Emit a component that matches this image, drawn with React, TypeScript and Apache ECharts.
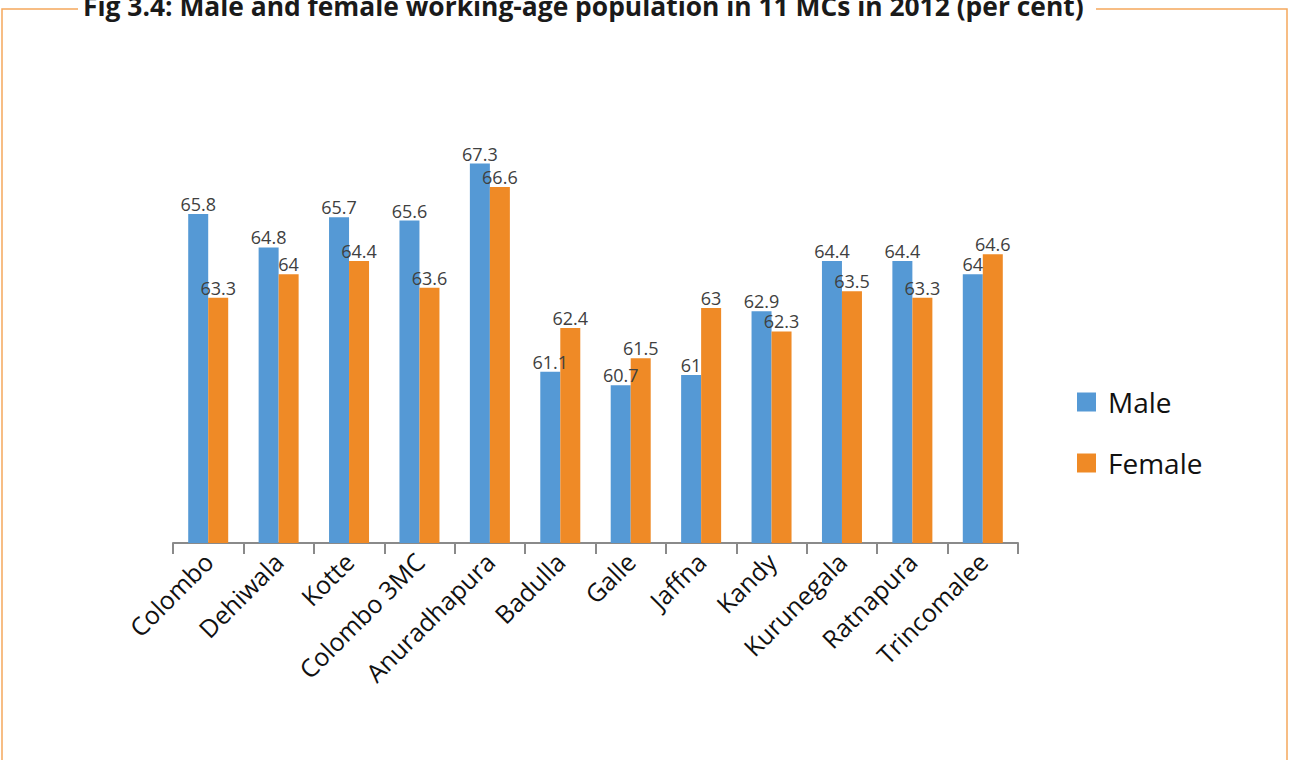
import React, { useEffect, useRef } from "react";
import * as echarts from "echarts";

const categories = ["Colombo", "Dehiwala", "Kotte", "Colombo 3MC", "Anuradhapura", "Badulla", "Galle", "Jaffna", "Kandy", "Kurunegala", "Ratnapura", "Trincomalee"];
const maleValues = [65.8, 64.8, 65.7, 65.6, 67.3, 61.1, 60.7, 61, 62.9, 64.4, 64.4, 64];
const femaleValues = [63.3, 64, 64.4, 63.6, 66.6, 62.4, 61.5, 63, 62.3, 63.5, 63.3, 64.6];
const titleText = "Fig 3.4: Male and female working-age population in 11 MCs in 2012 (per cent)";

export default function App() {
  const ref = useRef<HTMLDivElement>(null);
  useEffect(() => {
    if (!ref.current) return;
    const chart = echarts.init(ref.current, null, { renderer: "svg" });
    const border = "#F5A85C";
    const labelCfg = {
      show: true,
      position: "top" as const,
      distance: 1,
      fontSize: 18,
      color: "#404040",
      fontFamily: "Open Sans",
    };
    chart.setOption({
      animation: false,
      backgroundColor: "#fff",
      graphic: [
        { type: "polyline", shape: { points: [[78, 9], [2, 9], [2, 800]] }, style: { stroke: border, lineWidth: 1.5, fill: null } },
        { type: "polyline", shape: { points: [[1096, 9], [1287, 9], [1287, 800]] }, style: { stroke: border, lineWidth: 1.5, fill: null } },
        {
          type: "text",
          left: 83,
          top: -7,
          style: { text: titleText, fontSize: 26.4, fontWeight: "bold", fontFamily: "Open Sans", fill: "#1a1a1a" },
        },
      ],
      legend: {
        orient: "vertical",
        left: 1072,
        top: 383,
        itemWidth: 19,
        itemHeight: 19,
        itemGap: 33,
        icon: "rect",
        textStyle: { fontSize: 28, fontFamily: "Open Sans", color: "#111", padding: [0, 0, 0, 7] },
        data: ["Male", "Female"],
      },
      grid: { left: 173, right: 271, top: 140, bottom: 217 },
      xAxis: {
        type: "category",
        data: categories,
        axisLine: { show: true, lineStyle: { color: "#8a8a8a", width: 2 } },
        axisTick: { show: true, length: 11, interval: 0, lineStyle: { color: "#8a8a8a", width: 2 } },
        axisLabel: { rotate: 45, fontSize: 25, color: "#111", fontFamily: "Open Sans", margin: 14, interval: 0 },
      },
      yAxis: {
        type: "value",
        min: 56,
        max: 68,
        show: false,
        splitLine: { show: false },
      },
      series: [
        { name: "Male", type: "bar", data: maleValues, barWidth: 20, barGap: "0%", itemStyle: { color: "#5599D5" }, label: labelCfg },
        { name: "Female", type: "bar", data: femaleValues, barWidth: 20, barGap: "0%", itemStyle: { color: "#EF8A26" }, label: labelCfg },
      ],
    });
    return () => chart.dispose();
  }, []);
  return <div ref={ref} style={{ position: "absolute", left: 0, top: 0, width: 1289, height: 760 }} />;
}
